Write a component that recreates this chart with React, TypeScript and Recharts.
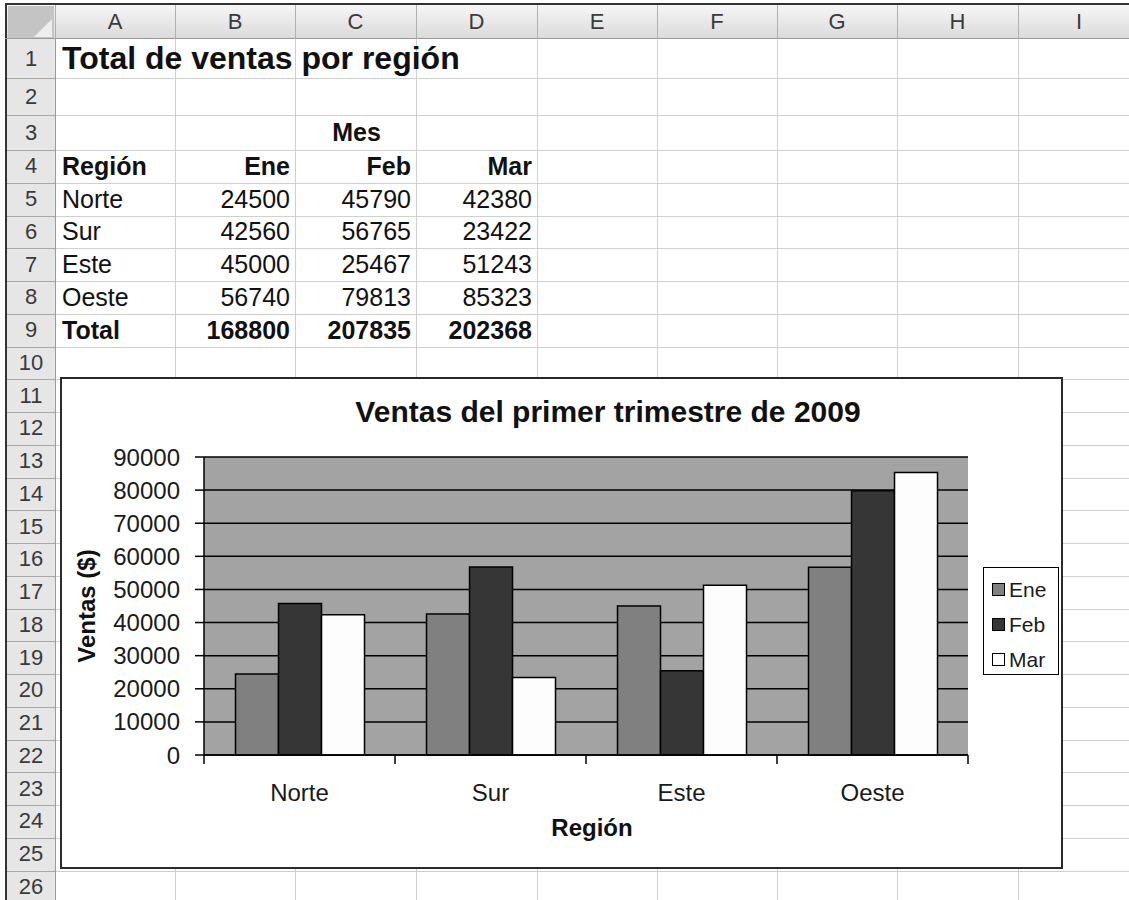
import React from 'react'
import { BarChart, Bar, XAxis, YAxis, CartesianGrid, Legend } from 'recharts'

// table values
const regions = ['Norte', 'Sur', 'Este', 'Oeste']
const months = ['Ene', 'Feb', 'Mar']
const ene = [24500, 42560, 45000, 56740]
const feb = [45790, 56765, 25467, 79813]
const mar = [42380, 23422, 51243, 85323]
const totals = [168800, 207835, 202368]
const yTicks = [0, 10000, 20000, 30000, 40000, 50000, 60000, 70000, 80000, 90000]
const colLetters = ['A', 'B', 'C', 'D', 'E', 'F', 'G', 'H', 'I']

const chartData = regions.map((r, i) => ({ region: r, Ene: ene[i], Feb: feb[i], Mar: mar[i] }))
const seriesColors: Record<string, string> = { Ene: '#808080', Feb: '#363636', Mar: '#fdfdfd' }

const FONT = 'Arial, "Liberation Sans", sans-serif'

// sheet geometry
const COL_EDGES = [55, 175, 295, 416, 537, 657, 777, 897, 1018, 1140]
const rowTop = (r: number) => {
  if (r === 1) return 39
  if (r === 2) return 78
  if (r === 3) return 115
  return 150 + (r - 4) * 32.75
}

// chart geometry (relative to chart box)
const CW = 999
const CH = 488
const M = { top: 78, right: 93, left: 19, bottom: 28 }
const Y_W = 123
const X_H = 84
const PLOT_W = CW - M.left - Y_W - M.right
const PLOT_BOTTOM = CH - M.bottom - X_H
const BAND = PLOT_W / regions.length

const RegionTick = (props: any) => {
  const { x, payload, index } = props
  const y0 = PLOT_BOTTOM
  return (
    <g>
      <line x1={x - BAND / 2} x2={x - BAND / 2} y1={y0} y2={y0 + 9} stroke="#000" strokeWidth={1.5} />
      {index === regions.length - 1 && (
        <line x1={x + BAND / 2} x2={x + BAND / 2} y1={y0} y2={y0 + 9} stroke="#000" strokeWidth={1.5} />
      )}
      <text x={x} y={y0 + 45.5} textAnchor="middle" fontSize={24} fontFamily={FONT} fill="#1a1a1a">
        {payload.value}
      </text>
    </g>
  )
}

const LegendBox = (props: any) => (
  <div style={{ border: '1.5px solid #000', background: '#fff', width: 76, height: 108, boxSizing: 'border-box', padding: '4px 0 0 8px', fontFamily: FONT }}>
    {props.payload.map((p: any) => (
      <div key={p.value} style={{ display: 'flex', alignItems: 'center', height: 35, fontSize: 21, color: '#1a1a1a' }}>
        <span style={{ width: 11, height: 11, border: '1.5px solid #000', background: p.color, marginRight: 4, display: 'inline-block' }} />
        {p.value}
      </div>
    ))}
  </div>
)

type CellDef = { r: number; c: number; text: string; bold?: boolean; align?: 'left' | 'right' | 'center'; size?: number }

const cells: CellDef[] = [
  { r: 1, c: 0, text: 'Total de ventas por región', bold: true, size: 32 },
  { r: 3, c: 2, text: 'Mes', bold: true, align: 'center' },
  { r: 4, c: 0, text: 'Región', bold: true },
  ...months.map((m, i) => ({ r: 4, c: i + 1, text: m, bold: true, align: 'right' as const })),
  ...regions.flatMap((reg, i) => [
    { r: 5 + i, c: 0, text: reg },
    { r: 5 + i, c: 1, text: String(ene[i]), align: 'right' as const },
    { r: 5 + i, c: 2, text: String(feb[i]), align: 'right' as const },
    { r: 5 + i, c: 3, text: String(mar[i]), align: 'right' as const },
  ]),
  { r: 9, c: 0, text: 'Total', bold: true },
  ...totals.map((t, i) => ({ r: 9, c: i + 1, text: String(t), bold: true, align: 'right' as const })),
]

const Sheet = () => {
  const rows = Array.from({ length: 26 }, (_, i) => i + 1)
  return (
    <>
      {/* column header strip */}
      <div style={{ position: 'absolute', left: 5, top: 3, width: 1124, height: 36, background: 'linear-gradient(#f6f6f6, #dadada)', borderTop: '2px solid #333', borderLeft: '2px solid #333', boxSizing: 'border-box' }} />
      {/* row header strip */}
      <div style={{ position: 'absolute', left: 5, top: 39, width: 50, height: 861, background: '#e6e6e6', borderLeft: '2px solid #333', boxSizing: 'border-box' }} />
      {/* corner */}
      <div style={{ position: 'absolute', left: 8, top: 6, width: 46, height: 32, background: '#c4c4c4' }} />
      <div style={{ position: 'absolute', left: 34, top: 19, width: 18, height: 18, background: '#eeeeee', clipPath: 'polygon(100% 0, 100% 100%, 0 100%)' }} />
      <div style={{ position: 'absolute', left: 5, top: 38, width: 1124, height: 1, background: '#9a9a9a' }} />
      {/* vertical lines */}
      {COL_EDGES.map((x, i) => (
        <React.Fragment key={'v' + i}>
          <div style={{ position: 'absolute', left: x, top: 5, width: 1, height: 34, background: '#b0b0b0' }} />
          <div style={{ position: 'absolute', left: x, top: 39, width: 1, height: 861, background: i === 0 ? '#9a9a9a' : '#cfcfcf' }} />
        </React.Fragment>
      ))}
      {/* horizontal lines */}
      {rows.map((r) => (
        <React.Fragment key={'h' + r}>
          <div style={{ position: 'absolute', left: 7, top: rowTop(r + 1), width: 48, height: 1, background: '#a8a8a8' }} />
          <div style={{ position: 'absolute', left: 56, top: rowTop(r + 1), width: 1073, height: 1, background: '#cfcfcf' }} />
        </React.Fragment>
      ))}
      {/* column letters */}
      {colLetters.map((l, i) => (
        <div key={l} style={{ position: 'absolute', left: COL_EDGES[i], top: 5, width: COL_EDGES[i + 1] - COL_EDGES[i], height: 34, display: 'flex', alignItems: 'center', justifyContent: 'center', fontSize: 22, color: '#3a3a3a', fontFamily: FONT }}>
          {l}
        </div>
      ))}
      {/* row numbers */}
      {rows.map((r) => (
        <div key={'n' + r} style={{ position: 'absolute', left: 7, top: rowTop(r), width: 48, height: rowTop(r + 1) - rowTop(r), display: 'flex', alignItems: 'center', justifyContent: 'center', fontSize: 22, color: '#3a3a3a', fontFamily: FONT }}>
          {r}
        </div>
      ))}
      {/* cell contents */}
      {cells.map((c, i) => {
        const left = COL_EDGES[c.c]
        const width = COL_EDGES[c.c + 1] - left
        const top = rowTop(c.r)
        const height = rowTop(c.r + 1) - top
        const align = c.align || 'left'
        return (
          <div key={'c' + i} style={{ position: 'absolute', left, top, width, height, display: 'flex', alignItems: 'center', justifyContent: align === 'left' ? 'flex-start' : align === 'right' ? 'flex-end' : 'center', padding: '0 5px 0 7px', boxSizing: 'border-box', whiteSpace: 'nowrap', fontSize: c.size || 25, fontWeight: c.bold ? 'bold' : 'normal', color: '#111', fontFamily: FONT }}>
            {c.text}
          </div>
        )
      })}
    </>
  )
}

export default function App() {
  return (
    <div style={{ position: 'relative', width: 1129, height: 900, background: '#fff', overflow: 'hidden' }}>
      <style>{'body{margin:0}'}</style>
      <Sheet />
      <div style={{ position: 'absolute', left: 60, top: 377, width: CW, height: CH, border: '2px solid #2a2a2a', background: '#fff' }}>
        <div style={{ position: 'absolute', left: 546, top: 33, transform: 'translate(-50%, -50%)', fontSize: 30, fontWeight: 'bold', fontFamily: FONT, color: '#111', whiteSpace: 'nowrap' }}>
          Ventas del primer trimestre de 2009
        </div>
        <BarChart width={CW} height={CH} data={chartData} margin={M} barCategoryGap="16.5%" barGap={0} style={{ fontFamily: FONT }}>
          <CartesianGrid vertical={false} stroke="#000" strokeWidth={1.5} fill="#a3a3a3" fillOpacity={1} />
          <XAxis
            dataKey="region"
            height={X_H}
            interval={0}
            tickLine={false}
            axisLine={{ stroke: '#000', strokeWidth: 1.5 }}
            tick={<RegionTick />}
            label={{ value: 'Región', position: 'insideBottom', offset: 3.5, dx: 6, style: { fontSize: 24, fontWeight: 'bold', fill: '#111', fontFamily: FONT } }}
          />
          <YAxis
            width={Y_W}
            domain={[0, 90000]}
            ticks={yTicks}
            interval={0}
            tickSize={9}
            tickMargin={15}
            tickLine={{ stroke: '#000', strokeWidth: 1.5 }}
            axisLine={{ stroke: '#000', strokeWidth: 1.5 }}
            tick={{ fontSize: 24, fill: '#1a1a1a', fontFamily: FONT }}
            label={{ value: 'Ventas ($)', angle: -90, position: 'insideLeft', offset: 5, style: { textAnchor: 'middle', fontSize: 24, fontWeight: 'bold', fill: '#111', fontFamily: FONT } }}
          />
          <Legend layout="vertical" align="center" verticalAlign="middle" content={<LegendBox />} wrapperStyle={{ left: 921, top: 188, width: 76, height: 108 }} />
          {months.map((m) => (
            <Bar key={m} dataKey={m} name={m} fill={seriesColors[m]} stroke="#000" strokeWidth={1.5} isAnimationActive={false} />
          ))}
        </BarChart>
      </div>
    </div>
  )
}
